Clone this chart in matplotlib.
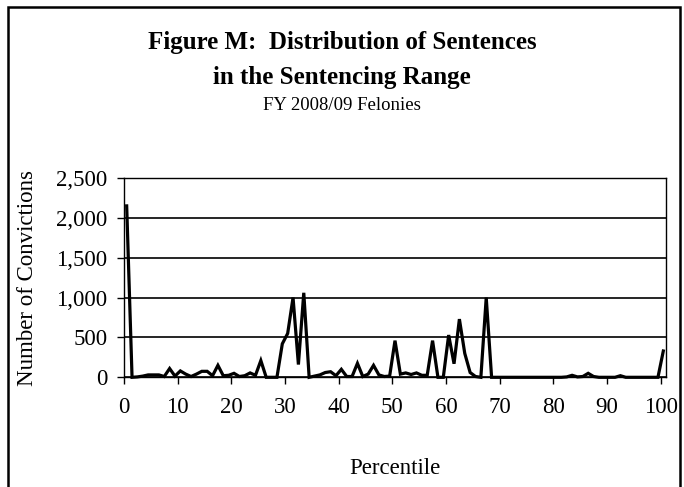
import matplotlib
matplotlib.use("Agg")
import matplotlib.pyplot as plt
from matplotlib.patches import Rectangle
from matplotlib.ticker import FuncFormatter

plt.rcParams['font.family'] = ['Liberation Serif', 'DejaVu Serif']

percentiles = list(range(0, 101))
convictions = [
    2150, 0, 5, 15, 30, 30, 30, 10, 110, 15,
    80, 40, 10, 40, 75, 75, 20, 150, 20, 25,
    50, 10, 20, 55, 25, 210, 0, 0, 0, 420,
    550, 1000, 160, 1060, 0, 15, 30, 60, 70, 20,
    100, 10, 10, 175, 10, 40, 150, 30, 10, 15,
    460, 40, 55, 35, 55, 25, 25, 460, 0, 0,
    530, 170, 730, 300, 60, 10, 0, 1000, 0, 0,
    0, 0, 0, 0, 0, 0, 0, 0, 0, 0,
    0, 0, 5, 25, 5, 10, 50, 10, 0, 0,
    0, 0, 20, 0, 0, 0, 0, 0, 0, 0,
    330,
]
xtick_labels = ['0', '10', '20', '30', '40', '50', '60', '70', '80', '90', '100']
yticks = [0, 500, 1000, 1500, 2000, 2500]

title_lines = ["Figure M:  Distribution of Sentences", "in the Sentencing Range"]
subtitle = "FY 2008/09 Felonies"

W, H = 684, 487
fig = plt.figure(figsize=(W / 100, H / 100), dpi=100)

# outer border
fig.patches.append(Rectangle((8 / W, -0.05), (680 - 8) / W, 1 - 6.5 / H + 0.05,
                             transform=fig.transFigure, fill=False,
                             edgecolor='black', linewidth=1.8))

ax = fig.add_axes([124 / W, 1 - 377.3 / H, (666 - 124) / W, (377.3 - 178) / H])
ax.plot(percentiles, convictions, color='black', linewidth=2.3,
        solid_joinstyle='miter', zorder=3, clip_on=False)
ax.set_xlim(-0.5, 100.5)
ax.set_ylim(0, 2500)
ax.set_yticks(yticks)
ax.yaxis.set_major_formatter(FuncFormatter(lambda v, p: f"{int(v):,}"))
ax.set_xticks([i * 10 - 0.5 for i in range(11)])
ax.set_xticklabels(xtick_labels)
ax.grid(axis='y', color='black', linewidth=1.2)
ax.set_axisbelow(True)
for s in ax.spines.values():
    s.set_color('black')
    s.set_linewidth(1.0)
ax.tick_params(axis='both', direction='out', length=5, width=1, colors='black',
               labelsize=16.5)
ax.tick_params(axis='x', pad=9)
ax.tick_params(axis='y', pad=7)
ax.set_xlabel("Percentile", fontsize=16.5, labelpad=29)
ax.set_ylabel("Number of Convictions", fontsize=16.5, labelpad=13)

fig.text(0.5, 1 - 43 / H, title_lines[0], ha='center', va='center',
         fontsize=18, fontweight='bold')
fig.text(0.5, 1 - 77 / H, title_lines[1], ha='center', va='center',
         fontsize=18, fontweight='bold')
fig.text(0.5, 1 - 106 / H, subtitle, ha='center', va='center', fontsize=13.5)

fig.savefig("out.png", dpi=100)
